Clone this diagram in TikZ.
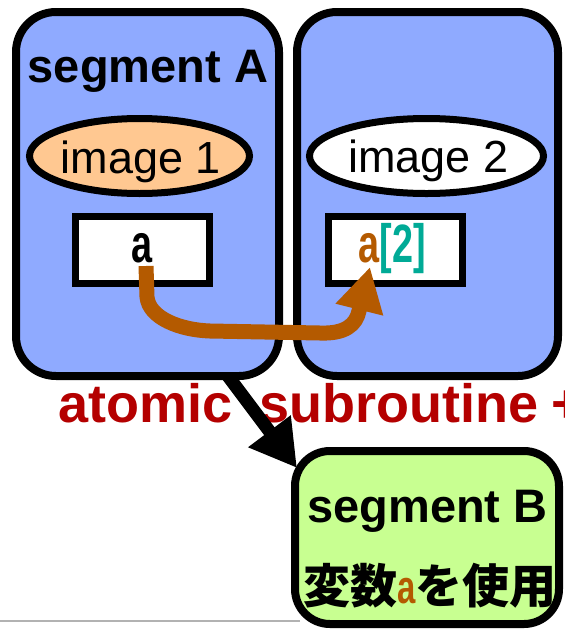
\documentclass[tikz,border=0pt]{standalone}
\usepackage{fontspec}
\setmainfont{Liberation Sans}
\newfontfamily\narrowf[FakeStretch=0.7]{Liberation Sans}
\newfontfamily\cjkf{Noto Sans CJK JP}
\usetikzlibrary{arrows.meta,shapes.geometric}
\definecolor{segblue}{RGB}{143,170,255}
\definecolor{peach}{RGB}{255,200,145}
\definecolor{segyellow}{RGB}{200,255,145}
\definecolor{brownc}{RGB}{180,90,0}
\definecolor{tealc}{RGB}{0,170,150}
\definecolor{redc}{RGB}{180,0,0}
\tikzset{
  segbox/.style={draw, line width=8pt, rounded corners=40pt, fill=segblue, inner sep=0pt},
  imgell/.style={draw, ellipse, line width=7pt, inner sep=0pt},
  varbox/.style={draw, line width=7pt, fill=white, inner sep=0pt, minimum width=134pt, minimum height=67pt},
  bigtxt/.style={font=\bfseries\fontsize{47}{51}\selectfont, anchor=base, inner sep=0pt},
  imgtxt/.style={font=\fontsize{45}{49}\selectfont, anchor=base, inner sep=0pt},
  vartxt/.style={font=\narrowf\bfseries\fontsize{54}{58}\selectfont, anchor=base, inner sep=0pt},
}
\begin{document}
\begin{tikzpicture}[x=1pt,y=-1pt]
\useasboundingbox (0,0) rectangle (565,630);
\fill[white] (0,0) rectangle (565,630);
% slide edge line
\draw[gray!60, line width=2pt] (0,621) -- (300,621);
% segments
\node[segbox, minimum width=263pt, minimum height=364pt] (segA) at (147.5,194) {};
\node[segbox, minimum width=261pt, minimum height=364pt] (segC) at (427.5,194) {};
\node[bigtxt] (segAt) at (148,82) {segment A};
% images
\node[imgell, fill=peach, minimum width=220pt, minimum height=75pt] (img1) at (139.5,156) {};
\node[imgell, fill=white, minimum width=234pt, minimum height=75pt] (img2) at (426.5,156) {};
\node[imgtxt] (img1t) at (141,173) {image 1};
\node[imgtxt] (img2t) at (428.5,172) {image 2};
% variable boxes
\node[varbox] (va) at (142.5,250) {};
\node[varbox] (vb) at (395.5,250) {};
\node[vartxt] (vat) at (142,262) {a};
\node[vartxt] (vbt) at (392,262) {\textcolor{brownc}{a}\textcolor{tealc}{[2]}};
% red text
\node[anchor=base west, inner sep=0pt, text=redc, font=\bfseries\fontsize{54}{58}\selectfont] (atext) at (58,422) {atomic\hspace{12pt} subroutine\hspace{-2pt} +};
% segment B
\node[draw, line width=8pt, rounded corners=35pt, fill=segyellow, inner sep=0pt, minimum width=264pt, minimum height=173pt] (segB) at (427,537.5) {};
\node[bigtxt] (segBt) at (427.5,522) {segment B};
\node[anchor=base, inner sep=0pt, font=\cjkf\bfseries\fontsize{47}{51}\selectfont] (segBj) at (430,603) {変数\textcolor{brownc}{\narrowf\bfseries a}を使用};
% brown arrow
\coordinate (bs) at (146,266);
\coordinate (bt) at (370,267);
\draw[brownc, line width=15pt, line join=round, -{Triangle[length=44pt,width=46pt]}]
  (bs) -- (147,297) .. controls (149,318) and (180,330) .. (210,331) -- (320,333) .. controls (345,334) and (356,325) .. (359,311) -- (bt);
% black arrow
\coordinate (ks) at (228,376);
\coordinate (kt) at (297,468);
\draw[black, line width=13pt, -{Triangle[length=46pt,width=50pt]}] (ks) -- (kt);
\end{tikzpicture}
\end{document}
